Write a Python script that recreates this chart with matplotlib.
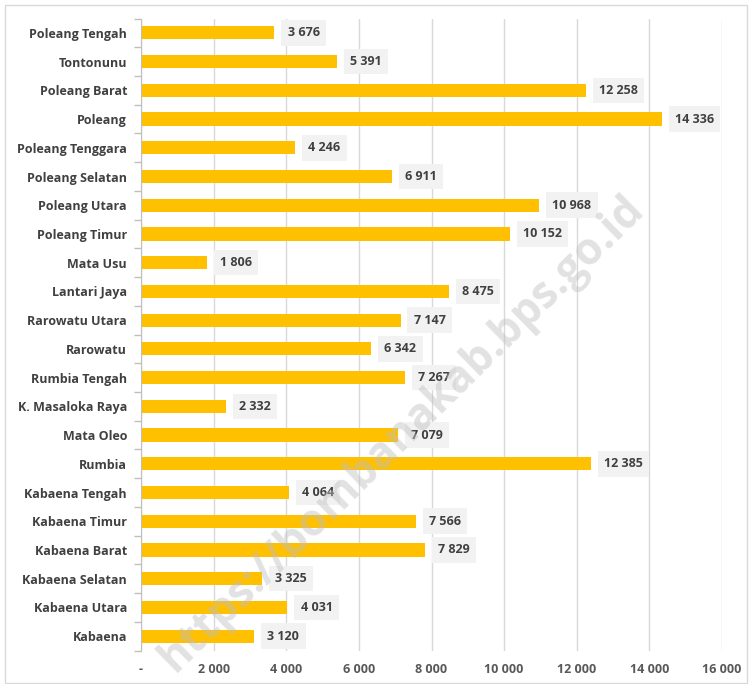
import matplotlib
matplotlib.use("Agg")
import matplotlib.pyplot as plt
from matplotlib.patches import Rectangle
from matplotlib.ticker import FixedLocator, FuncFormatter

categories = ["Poleang Tengah", "Tontonunu", "Poleang Barat", "Poleang", "Poleang Tenggara",
              "Poleang Selatan", "Poleang Utara", "Poleang Timur", "Mata Usu", "Lantari Jaya",
              "Rarowatu Utara", "Rarowatu", "Rumbia Tengah", "K. Masaloka Raya", "Mata Oleo",
              "Rumbia", "Kabaena Tengah", "Kabaena Timur", "Kabaena Barat", "Kabaena Selatan",
              "Kabaena Utara", "Kabaena"]
values = [3676, 5391, 12258, 14336, 4246, 6911, 10968, 10152, 1806, 8475, 7147, 6342, 7267,
          2332, 7079, 12385, 4064, 7566, 7829, 3325, 4031, 3120]
xticks = [0, 2000, 4000, 6000, 8000, 10000, 12000, 14000, 16000]

plt.rcParams['font.family'] = ['Open Sans', 'DejaVu Sans']

fig = plt.figure(figsize=(7.49, 6.84), dpi=100)
W, H = 749, 684
ax = fig.add_axes([141 / W, 1 - 650.5 / H, (722 - 141) / W, (650.5 - 18.5) / H])

n = len(categories)
ypos = list(range(n))
ax.barh(ypos, values, height=0.46, color="#FFC000", zorder=3)
ax.set_ylim(n - 0.5, -0.5)
ax.set_xlim(0, 16000)

def fmt(v):
    return f"{int(v):,}".replace(",", " ")

for y, v in zip(ypos, values):
    ax.annotate(fmt(v), xy=(v, y), xytext=(9.5, 0), textcoords="offset points",
                ha="left", va="center", fontsize=9, fontweight="bold", color="#404040",
                bbox=dict(boxstyle="square,pad=0.5", fc="#F2F2F2", ec="none"), zorder=4)

ax.xaxis.set_major_locator(FixedLocator(xticks))
ax.xaxis.set_major_formatter(FuncFormatter(lambda v, p: "-" if v == 0 else fmt(v)))
ax.grid(axis="x", color="#D9D9D9", linewidth=1, zorder=0)
ax.tick_params(axis="x", length=0, pad=9, labelsize=9, labelcolor="#595959")
for lab in ax.get_xticklabels():
    lab.set_fontweight("bold")

ax.set_yticks(ypos)
ax.set_yticklabels(categories, fontsize=9, fontweight="bold", color="#404040")
ax.tick_params(axis="y", length=0, pad=10)
ax.set_yticks([i - 0.5 for i in range(n + 1)], minor=True)
ax.tick_params(axis="y", which="minor", length=5, color="#BFBFBF", width=1)

for s in ["top", "right", "bottom"]:
    ax.spines[s].set_visible(False)
ax.spines["left"].set_color("#BFBFBF")
ax.spines["left"].set_zorder(5)

# watermark
fig.text(402 / W, 1 - 434 / H, "https://bombanakab.bps.go.id", rotation=44.5,
         ha="center", va="center", fontsize=31.5, fontweight="bold", color="#BFBFBF",
         alpha=0.45, zorder=10)

# figure border
fig.patches.append(Rectangle((5 / W, 1 / H), 742 / W, 1 - 6 / H, transform=fig.transFigure,
                             fill=False, ec="#D9D9D9", lw=1))

fig.savefig("out.png", dpi=100)
